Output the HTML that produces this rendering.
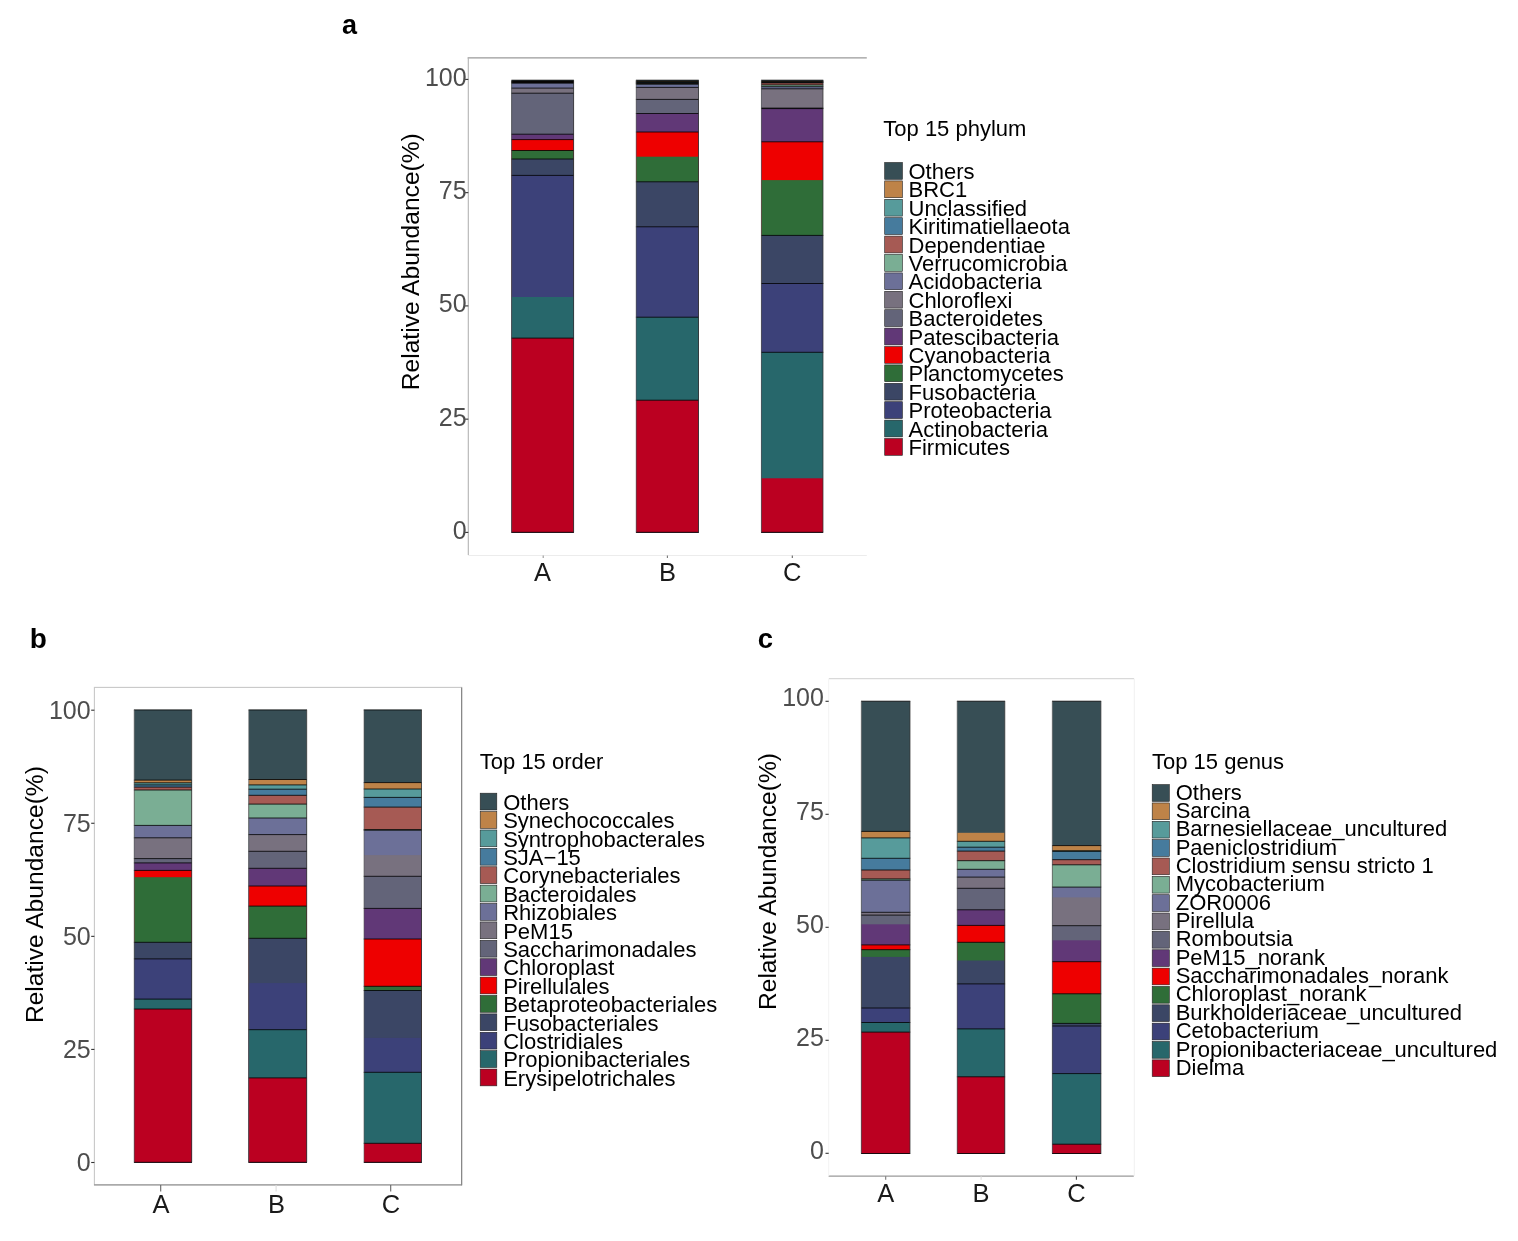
<!DOCTYPE html><html><head><meta charset="utf-8"><title>Relative abundance</title><style>
html,body{margin:0;padding:0;background:#fff;width:1518px;height:1241px;overflow:hidden}
svg{display:block}text{font-family:"Liberation Sans",Arial,sans-serif}
.tk{fill:#4d4d4d}.xl{fill:#1a1a1a;text-anchor:middle}.lg{fill:#000}.pl{font-weight:bold;fill:#000}
</style></head><body>
<svg width="1518" height="1241" viewBox="0 0 1518 1241">
<rect width="1518" height="1241" fill="#fff"/>
<text class="pl" x="341.9" y="34.2" font-size="27">a</text>
<text class="pl" x="29.7" y="648.2" font-size="28">b</text>
<text class="pl" x="757.8" y="648.3" font-size="27.5">c</text>
<line x1="467.6" y1="57.9" x2="866.8" y2="57.9" stroke="#9a9a9a" stroke-width="1.4"/>
<line x1="468.3" y1="57.9" x2="468.3" y2="555" stroke="#b3b3b3" stroke-width="1.1"/>
<line x1="468.3" y1="555.5" x2="866.8" y2="555.5" stroke="#ececec" stroke-width="1.1"/>
<rect x="94.4" y="687.4" width="367.3" height="497.5" fill="none" stroke="#c8c8c8" stroke-width="1.1"/>
<line x1="94" y1="1184.9" x2="462" y2="1184.9" stroke="#9a9a9a" stroke-width="1.2"/>
<line x1="461.6" y1="687.4" x2="461.6" y2="1185.3" stroke="#888" stroke-width="1.2"/>
<line x1="828.9" y1="678.6" x2="1134" y2="678.6" stroke="#d9d9d9" stroke-width="1.2"/>
<line x1="828.6" y1="1176.2" x2="1133.8" y2="1176.2" stroke="#9a9a9a" stroke-width="1.2"/>
<line x1="828.7" y1="678.6" x2="828.7" y2="1176" stroke="#f3f3f3" stroke-width="1"/>
<line x1="1134.3" y1="678.6" x2="1134.3" y2="1176" stroke="#f0f0f0" stroke-width="1"/>
<rect x="511.70" y="80.20" width="61.90" height="452.10" fill="#374E55"/>
<rect x="511.70" y="81.00" width="61.90" height="451.30" fill="#BE8348"/>
<rect x="511.70" y="81.50" width="61.90" height="450.80" fill="#579B9B"/>
<rect x="511.70" y="81.90" width="61.90" height="450.40" fill="#467B9D"/>
<rect x="511.70" y="82.30" width="61.90" height="450.00" fill="#A65A54"/>
<rect x="511.70" y="82.70" width="61.90" height="449.60" fill="#7AAE94"/>
<rect x="511.70" y="83.10" width="61.90" height="449.20" fill="#6C7098"/>
<rect x="511.70" y="88.10" width="61.90" height="444.20" fill="#78717F"/>
<rect x="511.70" y="93.20" width="61.90" height="439.10" fill="#636479"/>
<rect x="511.70" y="134.20" width="61.90" height="398.10" fill="#613877"/>
<rect x="511.70" y="139.60" width="61.90" height="392.70" fill="#EE0000"/>
<rect x="511.70" y="150.50" width="61.90" height="381.80" fill="#2F6D38"/>
<rect x="511.70" y="159.00" width="61.90" height="373.30" fill="#3B4665"/>
<rect x="511.70" y="175.40" width="61.90" height="356.90" fill="#3C4179"/>
<rect x="511.70" y="297.00" width="61.90" height="235.30" fill="#27676B"/>
<rect x="511.70" y="338.10" width="61.90" height="194.20" fill="#BB0021"/>
<path d="M511.40 80.20H573.90 M511.40 81.00H573.90 M511.40 81.50H573.90 M511.40 81.90H573.90 M511.40 82.30H573.90 M511.40 82.70H573.90 M511.40 83.10H573.90 M511.40 88.10H573.90 M511.40 93.20H573.90 M511.40 134.20H573.90 M511.40 139.60H573.90 M511.40 150.50H573.90 M511.40 159.00H573.90 M511.40 175.40H573.90 M511.40 338.10H573.90 M511.40 532.30H573.90" stroke="#000" stroke-width="0.8" fill="none"/>
<line x1="511.70" y1="80.20" x2="511.70" y2="532.30" stroke="#555" stroke-width="0.6"/>
<line x1="573.60" y1="80.20" x2="573.60" y2="532.30" stroke="#333" stroke-width="0.75"/>
<rect x="636.20" y="80.20" width="62.30" height="452.10" fill="#374E55"/>
<rect x="636.20" y="81.20" width="62.30" height="451.10" fill="#BE8348"/>
<rect x="636.20" y="81.80" width="62.30" height="450.50" fill="#579B9B"/>
<rect x="636.20" y="82.40" width="62.30" height="449.90" fill="#467B9D"/>
<rect x="636.20" y="83.00" width="62.30" height="449.30" fill="#A65A54"/>
<rect x="636.20" y="83.60" width="62.30" height="448.70" fill="#7AAE94"/>
<rect x="636.20" y="84.20" width="62.30" height="448.10" fill="#6C7098"/>
<rect x="636.20" y="87.40" width="62.30" height="444.90" fill="#78717F"/>
<rect x="636.20" y="99.40" width="62.30" height="432.90" fill="#636479"/>
<rect x="636.20" y="113.50" width="62.30" height="418.80" fill="#613877"/>
<rect x="636.20" y="132.00" width="62.30" height="400.30" fill="#EE0000"/>
<rect x="636.20" y="156.70" width="62.30" height="375.60" fill="#2F6D38"/>
<rect x="636.20" y="181.80" width="62.30" height="350.50" fill="#3B4665"/>
<rect x="636.20" y="226.80" width="62.30" height="305.50" fill="#3C4179"/>
<rect x="636.20" y="317.20" width="62.30" height="215.10" fill="#27676B"/>
<rect x="636.20" y="400.20" width="62.30" height="132.10" fill="#BB0021"/>
<path d="M635.90 80.20H698.80 M635.90 81.20H698.80 M635.90 81.80H698.80 M635.90 82.40H698.80 M635.90 83.00H698.80 M635.90 83.60H698.80 M635.90 84.20H698.80 M635.90 87.40H698.80 M635.90 99.40H698.80 M635.90 113.50H698.80 M635.90 132.00H698.80 M635.90 181.80H698.80 M635.90 226.80H698.80 M635.90 317.20H698.80 M635.90 400.20H698.80 M635.90 532.30H698.80" stroke="#000" stroke-width="0.8" fill="none"/>
<line x1="636.20" y1="80.20" x2="636.20" y2="532.30" stroke="#555" stroke-width="0.6"/>
<line x1="698.50" y1="80.20" x2="698.50" y2="532.30" stroke="#333" stroke-width="0.75"/>
<rect x="761.40" y="80.20" width="61.60" height="452.10" fill="#374E55"/>
<rect x="761.40" y="81.30" width="61.60" height="451.00" fill="#BE8348"/>
<rect x="761.40" y="81.90" width="61.60" height="450.40" fill="#579B9B"/>
<rect x="761.40" y="82.40" width="61.60" height="449.90" fill="#467B9D"/>
<rect x="761.40" y="82.90" width="61.60" height="449.40" fill="#A65A54"/>
<rect x="761.40" y="84.90" width="61.60" height="447.40" fill="#7AAE94"/>
<rect x="761.40" y="86.70" width="61.60" height="445.60" fill="#6C7098"/>
<rect x="761.40" y="88.80" width="61.60" height="443.50" fill="#78717F"/>
<rect x="761.40" y="108.10" width="61.60" height="424.20" fill="#636479"/>
<rect x="761.40" y="108.60" width="61.60" height="423.70" fill="#613877"/>
<rect x="761.40" y="141.80" width="61.60" height="390.50" fill="#EE0000"/>
<rect x="761.40" y="180.10" width="61.60" height="352.20" fill="#2F6D38"/>
<rect x="761.40" y="235.40" width="61.60" height="296.90" fill="#3B4665"/>
<rect x="761.40" y="283.50" width="61.60" height="248.80" fill="#3C4179"/>
<rect x="761.40" y="352.30" width="61.60" height="180.00" fill="#27676B"/>
<rect x="761.40" y="478.30" width="61.60" height="54.00" fill="#BB0021"/>
<path d="M761.10 80.20H823.30 M761.10 81.30H823.30 M761.10 81.90H823.30 M761.10 82.40H823.30 M761.10 82.90H823.30 M761.10 84.90H823.30 M761.10 86.70H823.30 M761.10 88.80H823.30 M761.10 108.10H823.30 M761.10 108.60H823.30 M761.10 141.80H823.30 M761.10 235.40H823.30 M761.10 283.50H823.30 M761.10 352.30H823.30 M761.10 532.30H823.30" stroke="#000" stroke-width="0.8" fill="none"/>
<line x1="761.40" y1="80.20" x2="761.40" y2="532.30" stroke="#555" stroke-width="0.6"/>
<line x1="823.00" y1="80.20" x2="823.00" y2="532.30" stroke="#333" stroke-width="0.75"/>
<line x1="465.10" y1="532.40" x2="468.30" y2="532.40" stroke="#333" stroke-width="1.1"/>
<text class="tk" x="466.60" y="538.67" font-size="25.0" text-anchor="end">0</text>
<line x1="465.10" y1="419.15" x2="468.30" y2="419.15" stroke="#333" stroke-width="1.1"/>
<text class="tk" x="466.60" y="425.50" font-size="25.0" text-anchor="end">25</text>
<line x1="465.10" y1="305.90" x2="468.30" y2="305.90" stroke="#333" stroke-width="1.1"/>
<text class="tk" x="466.60" y="312.32" font-size="25.0" text-anchor="end">50</text>
<line x1="465.10" y1="192.65" x2="468.30" y2="192.65" stroke="#333" stroke-width="1.1"/>
<text class="tk" x="466.60" y="199.15" font-size="25.0" text-anchor="end">75</text>
<line x1="465.10" y1="79.40" x2="468.30" y2="79.40" stroke="#333" stroke-width="1.1"/>
<text class="tk" x="466.60" y="85.98" font-size="25.0" text-anchor="end">100</text>
<line x1="543.20" y1="555.50" x2="543.20" y2="558.10" stroke="#999" stroke-width="1.1"/>
<text class="xl" x="542.50" y="580.50" font-size="25.5">A</text>
<line x1="667.40" y1="555.50" x2="667.40" y2="558.10" stroke="#777" stroke-width="1.1"/>
<text class="xl" x="667.40" y="580.50" font-size="25.5">B</text>
<line x1="792.30" y1="555.50" x2="792.30" y2="558.10" stroke="#666" stroke-width="1.1"/>
<text class="xl" x="792.30" y="580.50" font-size="25.5">C</text>
<text x="418.80" y="261.70" font-size="24.6" fill="#000" text-anchor="middle" transform="rotate(-90 418.80 261.70)">Relative Abundance(%)</text>
<text class="lg" x="883.30" y="136.00" font-size="22">Top 15 phylum</text>
<rect x="884.70" y="162.50" width="17.70" height="16.80" fill="#374E55" stroke="#222" stroke-width="0.6"/>
<text class="lg" x="908.50" y="179.00" font-size="22">Others</text>
<rect x="884.70" y="180.90" width="17.70" height="16.80" fill="#BE8348" stroke="#222" stroke-width="0.6"/>
<text class="lg" x="908.50" y="197.40" font-size="22">BRC1</text>
<rect x="884.70" y="199.30" width="17.70" height="16.80" fill="#579B9B" stroke="#222" stroke-width="0.6"/>
<text class="lg" x="908.50" y="215.80" font-size="22">Unclassified</text>
<rect x="884.70" y="217.70" width="17.70" height="16.80" fill="#467B9D" stroke="#222" stroke-width="0.6"/>
<text class="lg" x="908.50" y="234.20" font-size="22">Kiritimatiellaeota</text>
<rect x="884.70" y="236.10" width="17.70" height="16.80" fill="#A65A54" stroke="#222" stroke-width="0.6"/>
<text class="lg" x="908.50" y="252.60" font-size="22">Dependentiae</text>
<rect x="884.70" y="254.50" width="17.70" height="16.80" fill="#7AAE94" stroke="#222" stroke-width="0.6"/>
<text class="lg" x="908.50" y="271.00" font-size="22">Verrucomicrobia</text>
<rect x="884.70" y="272.90" width="17.70" height="16.80" fill="#6C7098" stroke="#222" stroke-width="0.6"/>
<text class="lg" x="908.50" y="289.40" font-size="22">Acidobacteria</text>
<rect x="884.70" y="291.30" width="17.70" height="16.80" fill="#78717F" stroke="#222" stroke-width="0.6"/>
<text class="lg" x="908.50" y="307.80" font-size="22">Chloroflexi</text>
<rect x="884.70" y="309.70" width="17.70" height="16.80" fill="#636479" stroke="#222" stroke-width="0.6"/>
<text class="lg" x="908.50" y="326.20" font-size="22">Bacteroidetes</text>
<rect x="884.70" y="328.10" width="17.70" height="16.80" fill="#613877" stroke="#222" stroke-width="0.6"/>
<text class="lg" x="908.50" y="344.60" font-size="22">Patescibacteria</text>
<rect x="884.70" y="346.50" width="17.70" height="16.80" fill="#EE0000" stroke="#222" stroke-width="0.6"/>
<text class="lg" x="908.50" y="363.00" font-size="22">Cyanobacteria</text>
<rect x="884.70" y="364.90" width="17.70" height="16.80" fill="#2F6D38" stroke="#222" stroke-width="0.6"/>
<text class="lg" x="908.50" y="381.40" font-size="22">Planctomycetes</text>
<rect x="884.70" y="383.30" width="17.70" height="16.80" fill="#3B4665" stroke="#222" stroke-width="0.6"/>
<text class="lg" x="908.50" y="399.80" font-size="22">Fusobacteria</text>
<rect x="884.70" y="401.70" width="17.70" height="16.80" fill="#3C4179" stroke="#222" stroke-width="0.6"/>
<text class="lg" x="908.50" y="418.20" font-size="22">Proteobacteria</text>
<rect x="884.70" y="420.10" width="17.70" height="16.80" fill="#27676B" stroke="#222" stroke-width="0.6"/>
<text class="lg" x="908.50" y="436.60" font-size="22">Actinobacteria</text>
<rect x="884.70" y="438.50" width="17.70" height="16.80" fill="#BB0021" stroke="#222" stroke-width="0.6"/>
<text class="lg" x="908.50" y="455.00" font-size="22">Firmicutes</text>
<rect x="134.20" y="709.90" width="57.50" height="452.40" fill="#374E55"/>
<rect x="134.20" y="780.10" width="57.50" height="382.20" fill="#BE8348"/>
<rect x="134.20" y="782.80" width="57.50" height="379.50" fill="#579B9B"/>
<rect x="134.20" y="784.90" width="57.50" height="377.40" fill="#467B9D"/>
<rect x="134.20" y="787.10" width="57.50" height="375.20" fill="#A65A54"/>
<rect x="134.20" y="790.00" width="57.50" height="372.30" fill="#7AAE94"/>
<rect x="134.20" y="825.40" width="57.50" height="336.90" fill="#6C7098"/>
<rect x="134.20" y="837.80" width="57.50" height="324.50" fill="#78717F"/>
<rect x="134.20" y="858.60" width="57.50" height="303.70" fill="#636479"/>
<rect x="134.20" y="862.90" width="57.50" height="299.40" fill="#613877"/>
<rect x="134.20" y="870.40" width="57.50" height="291.90" fill="#EE0000"/>
<rect x="134.20" y="877.20" width="57.50" height="285.10" fill="#2F6D38"/>
<rect x="134.20" y="942.30" width="57.50" height="220.00" fill="#3B4665"/>
<rect x="134.20" y="958.90" width="57.50" height="203.40" fill="#3C4179"/>
<rect x="134.20" y="999.10" width="57.50" height="163.20" fill="#27676B"/>
<rect x="134.20" y="1009.00" width="57.50" height="153.30" fill="#BB0021"/>
<path d="M133.90 709.90H192.00 M133.90 780.10H192.00 M133.90 782.80H192.00 M133.90 784.90H192.00 M133.90 787.10H192.00 M133.90 790.00H192.00 M133.90 825.40H192.00 M133.90 837.80H192.00 M133.90 858.60H192.00 M133.90 862.90H192.00 M133.90 870.40H192.00 M133.90 942.30H192.00 M133.90 958.90H192.00 M133.90 999.10H192.00 M133.90 1009.00H192.00 M133.90 1162.30H192.00" stroke="#000" stroke-width="0.8" fill="none"/>
<line x1="134.20" y1="709.90" x2="134.20" y2="1162.30" stroke="#555" stroke-width="0.6"/>
<line x1="191.70" y1="709.90" x2="191.70" y2="1162.30" stroke="#333" stroke-width="0.75"/>
<rect x="248.80" y="709.90" width="57.90" height="452.40" fill="#374E55"/>
<rect x="248.80" y="779.50" width="57.90" height="382.80" fill="#BE8348"/>
<rect x="248.80" y="784.90" width="57.90" height="377.40" fill="#579B9B"/>
<rect x="248.80" y="789.20" width="57.90" height="373.10" fill="#467B9D"/>
<rect x="248.80" y="795.30" width="57.90" height="367.00" fill="#A65A54"/>
<rect x="248.80" y="804.10" width="57.90" height="358.20" fill="#7AAE94"/>
<rect x="248.80" y="818.00" width="57.90" height="344.30" fill="#6C7098"/>
<rect x="248.80" y="834.60" width="57.90" height="327.70" fill="#78717F"/>
<rect x="248.80" y="851.30" width="57.90" height="311.00" fill="#636479"/>
<rect x="248.80" y="868.30" width="57.90" height="294.00" fill="#613877"/>
<rect x="248.80" y="886.00" width="57.90" height="276.30" fill="#EE0000"/>
<rect x="248.80" y="906.10" width="57.90" height="256.20" fill="#2F6D38"/>
<rect x="248.80" y="938.30" width="57.90" height="224.00" fill="#3B4665"/>
<rect x="248.80" y="983.10" width="57.90" height="179.20" fill="#3C4179"/>
<rect x="248.80" y="1029.70" width="57.90" height="132.60" fill="#27676B"/>
<rect x="248.80" y="1077.90" width="57.90" height="84.40" fill="#BB0021"/>
<path d="M248.50 709.90H307.00 M248.50 779.50H307.00 M248.50 784.90H307.00 M248.50 789.20H307.00 M248.50 795.30H307.00 M248.50 804.10H307.00 M248.50 818.00H307.00 M248.50 834.60H307.00 M248.50 851.30H307.00 M248.50 868.30H307.00 M248.50 886.00H307.00 M248.50 906.10H307.00 M248.50 938.30H307.00 M248.50 1029.70H307.00 M248.50 1077.90H307.00 M248.50 1162.30H307.00" stroke="#000" stroke-width="0.8" fill="none"/>
<line x1="248.80" y1="709.90" x2="248.80" y2="1162.30" stroke="#555" stroke-width="0.6"/>
<line x1="306.70" y1="709.90" x2="306.70" y2="1162.30" stroke="#333" stroke-width="0.75"/>
<rect x="364.00" y="709.90" width="57.50" height="452.40" fill="#374E55"/>
<rect x="364.00" y="782.60" width="57.50" height="379.70" fill="#BE8348"/>
<rect x="364.00" y="789.00" width="57.50" height="373.30" fill="#579B9B"/>
<rect x="364.00" y="797.40" width="57.50" height="364.90" fill="#467B9D"/>
<rect x="364.00" y="807.10" width="57.50" height="355.20" fill="#A65A54"/>
<rect x="364.00" y="829.60" width="57.50" height="332.70" fill="#7AAE94"/>
<rect x="364.00" y="830.20" width="57.50" height="332.10" fill="#6C7098"/>
<rect x="364.00" y="855.10" width="57.50" height="307.20" fill="#78717F"/>
<rect x="364.00" y="876.30" width="57.50" height="286.00" fill="#636479"/>
<rect x="364.00" y="908.40" width="57.50" height="253.90" fill="#613877"/>
<rect x="364.00" y="939.00" width="57.50" height="223.30" fill="#EE0000"/>
<rect x="364.00" y="986.30" width="57.50" height="176.00" fill="#2F6D38"/>
<rect x="364.00" y="990.50" width="57.50" height="171.80" fill="#3B4665"/>
<rect x="364.00" y="1037.90" width="57.50" height="124.40" fill="#3C4179"/>
<rect x="364.00" y="1072.30" width="57.50" height="90.00" fill="#27676B"/>
<rect x="364.00" y="1143.30" width="57.50" height="19.00" fill="#BB0021"/>
<path d="M363.70 709.90H421.80 M363.70 782.60H421.80 M363.70 789.00H421.80 M363.70 797.40H421.80 M363.70 807.10H421.80 M363.70 829.60H421.80 M363.70 830.20H421.80 M363.70 876.30H421.80 M363.70 908.40H421.80 M363.70 939.00H421.80 M363.70 986.30H421.80 M363.70 990.50H421.80 M363.70 1072.30H421.80 M363.70 1143.30H421.80 M363.70 1162.30H421.80" stroke="#000" stroke-width="0.8" fill="none"/>
<line x1="364.00" y1="709.90" x2="364.00" y2="1162.30" stroke="#555" stroke-width="0.6"/>
<line x1="421.50" y1="709.90" x2="421.50" y2="1162.30" stroke="#333" stroke-width="0.75"/>
<line x1="91.20" y1="1162.50" x2="94.40" y2="1162.50" stroke="#333" stroke-width="1.1"/>
<text class="tk" x="90.70" y="1171.47" font-size="25.0" text-anchor="end">0</text>
<line x1="91.20" y1="1049.42" x2="94.40" y2="1049.42" stroke="#333" stroke-width="1.1"/>
<text class="tk" x="90.70" y="1058.38" font-size="25.0" text-anchor="end">25</text>
<line x1="91.20" y1="936.35" x2="94.40" y2="936.35" stroke="#333" stroke-width="1.1"/>
<text class="tk" x="90.70" y="945.27" font-size="25.0" text-anchor="end">50</text>
<line x1="91.20" y1="823.27" x2="94.40" y2="823.27" stroke="#333" stroke-width="1.1"/>
<text class="tk" x="90.70" y="832.17" font-size="25.0" text-anchor="end">75</text>
<line x1="91.20" y1="710.20" x2="94.40" y2="710.20" stroke="#333" stroke-width="1.1"/>
<text class="tk" x="90.70" y="719.08" font-size="25.0" text-anchor="end">100</text>
<line x1="160.70" y1="1184.90" x2="160.70" y2="1191.40" stroke="#666" stroke-width="1.1"/>
<text class="xl" x="161.00" y="1213.40" font-size="25.5">A</text>
<line x1="276.10" y1="1184.90" x2="276.10" y2="1191.40" stroke="#ddd" stroke-width="1.1"/>
<text class="xl" x="276.40" y="1213.40" font-size="25.5">B</text>
<line x1="390.70" y1="1184.90" x2="390.70" y2="1191.40" stroke="#666" stroke-width="1.1"/>
<text class="xl" x="391.00" y="1213.40" font-size="25.5">C</text>
<text x="43.20" y="894.60" font-size="24.6" fill="#000" text-anchor="middle" transform="rotate(-90 43.20 894.60)">Relative Abundance(%)</text>
<text class="lg" x="479.80" y="768.80" font-size="22">Top 15 order</text>
<rect x="480.20" y="793.20" width="16.60" height="16.79" fill="#374E55" stroke="#222" stroke-width="0.6"/>
<text class="lg" x="503.20" y="809.90" font-size="22">Others</text>
<rect x="480.20" y="811.59" width="16.60" height="16.79" fill="#BE8348" stroke="#222" stroke-width="0.6"/>
<text class="lg" x="503.20" y="828.29" font-size="22">Synechococcales</text>
<rect x="480.20" y="829.98" width="16.60" height="16.79" fill="#579B9B" stroke="#222" stroke-width="0.6"/>
<text class="lg" x="503.20" y="846.68" font-size="22">Syntrophobacterales</text>
<rect x="480.20" y="848.37" width="16.60" height="16.79" fill="#467B9D" stroke="#222" stroke-width="0.6"/>
<text class="lg" x="503.20" y="865.07" font-size="22">SJA−15</text>
<rect x="480.20" y="866.76" width="16.60" height="16.79" fill="#A65A54" stroke="#222" stroke-width="0.6"/>
<text class="lg" x="503.20" y="883.46" font-size="22">Corynebacteriales</text>
<rect x="480.20" y="885.15" width="16.60" height="16.79" fill="#7AAE94" stroke="#222" stroke-width="0.6"/>
<text class="lg" x="503.20" y="901.85" font-size="22">Bacteroidales</text>
<rect x="480.20" y="903.54" width="16.60" height="16.79" fill="#6C7098" stroke="#222" stroke-width="0.6"/>
<text class="lg" x="503.20" y="920.24" font-size="22">Rhizobiales</text>
<rect x="480.20" y="921.93" width="16.60" height="16.79" fill="#78717F" stroke="#222" stroke-width="0.6"/>
<text class="lg" x="503.20" y="938.63" font-size="22">PeM15</text>
<rect x="480.20" y="940.32" width="16.60" height="16.79" fill="#636479" stroke="#222" stroke-width="0.6"/>
<text class="lg" x="503.20" y="957.02" font-size="22">Saccharimonadales</text>
<rect x="480.20" y="958.71" width="16.60" height="16.79" fill="#613877" stroke="#222" stroke-width="0.6"/>
<text class="lg" x="503.20" y="975.41" font-size="22">Chloroplast</text>
<rect x="480.20" y="977.10" width="16.60" height="16.79" fill="#EE0000" stroke="#222" stroke-width="0.6"/>
<text class="lg" x="503.20" y="993.80" font-size="22">Pirellulales</text>
<rect x="480.20" y="995.49" width="16.60" height="16.79" fill="#2F6D38" stroke="#222" stroke-width="0.6"/>
<text class="lg" x="503.20" y="1012.19" font-size="22">Betaproteobacteriales</text>
<rect x="480.20" y="1013.88" width="16.60" height="16.79" fill="#3B4665" stroke="#222" stroke-width="0.6"/>
<text class="lg" x="503.20" y="1030.58" font-size="22">Fusobacteriales</text>
<rect x="480.20" y="1032.27" width="16.60" height="16.79" fill="#3C4179" stroke="#222" stroke-width="0.6"/>
<text class="lg" x="503.20" y="1048.97" font-size="22">Clostridiales</text>
<rect x="480.20" y="1050.66" width="16.60" height="16.79" fill="#27676B" stroke="#222" stroke-width="0.6"/>
<text class="lg" x="503.20" y="1067.36" font-size="22">Propionibacteriales</text>
<rect x="480.20" y="1069.05" width="16.60" height="16.79" fill="#BB0021" stroke="#222" stroke-width="0.6"/>
<text class="lg" x="503.20" y="1085.75" font-size="22">Erysipelotrichales</text>
<rect x="861.30" y="701.20" width="48.70" height="452.30" fill="#374E55"/>
<rect x="861.30" y="831.40" width="48.70" height="322.10" fill="#BE8348"/>
<rect x="861.30" y="837.90" width="48.70" height="315.60" fill="#579B9B"/>
<rect x="861.30" y="858.30" width="48.70" height="295.20" fill="#467B9D"/>
<rect x="861.30" y="870.00" width="48.70" height="283.50" fill="#A65A54"/>
<rect x="861.30" y="878.90" width="48.70" height="274.60" fill="#7AAE94"/>
<rect x="861.30" y="880.20" width="48.70" height="273.30" fill="#6C7098"/>
<rect x="861.30" y="912.30" width="48.70" height="241.20" fill="#78717F"/>
<rect x="861.30" y="915.10" width="48.70" height="238.40" fill="#636479"/>
<rect x="861.30" y="924.30" width="48.70" height="229.20" fill="#613877"/>
<rect x="861.30" y="944.90" width="48.70" height="208.60" fill="#EE0000"/>
<rect x="861.30" y="949.70" width="48.70" height="203.80" fill="#2F6D38"/>
<rect x="861.30" y="956.90" width="48.70" height="196.60" fill="#3B4665"/>
<rect x="861.30" y="1008.00" width="48.70" height="145.50" fill="#3C4179"/>
<rect x="861.30" y="1022.50" width="48.70" height="131.00" fill="#27676B"/>
<rect x="861.30" y="1032.10" width="48.70" height="121.40" fill="#BB0021"/>
<path d="M861.00 701.20H910.30 M861.00 831.40H910.30 M861.00 837.90H910.30 M861.00 858.30H910.30 M861.00 870.00H910.30 M861.00 878.90H910.30 M861.00 880.20H910.30 M861.00 912.30H910.30 M861.00 915.10H910.30 M861.00 944.90H910.30 M861.00 949.70H910.30 M861.00 1008.00H910.30 M861.00 1022.50H910.30 M861.00 1032.10H910.30 M861.00 1153.50H910.30" stroke="#000" stroke-width="0.8" fill="none"/>
<line x1="861.30" y1="701.20" x2="861.30" y2="1153.50" stroke="#555" stroke-width="0.6"/>
<line x1="910.00" y1="701.20" x2="910.00" y2="1153.50" stroke="#333" stroke-width="0.75"/>
<rect x="957.20" y="701.20" width="47.60" height="452.30" fill="#374E55"/>
<rect x="957.20" y="832.80" width="47.60" height="320.70" fill="#BE8348"/>
<rect x="957.20" y="841.30" width="47.60" height="312.20" fill="#579B9B"/>
<rect x="957.20" y="847.20" width="47.60" height="306.30" fill="#467B9D"/>
<rect x="957.20" y="851.10" width="47.60" height="302.40" fill="#A65A54"/>
<rect x="957.20" y="860.70" width="47.60" height="292.80" fill="#7AAE94"/>
<rect x="957.20" y="869.30" width="47.60" height="284.20" fill="#6C7098"/>
<rect x="957.20" y="877.10" width="47.60" height="276.40" fill="#78717F"/>
<rect x="957.20" y="888.30" width="47.60" height="265.20" fill="#636479"/>
<rect x="957.20" y="909.80" width="47.60" height="243.70" fill="#613877"/>
<rect x="957.20" y="925.40" width="47.60" height="228.10" fill="#EE0000"/>
<rect x="957.20" y="942.30" width="47.60" height="211.20" fill="#2F6D38"/>
<rect x="957.20" y="960.50" width="47.60" height="193.00" fill="#3B4665"/>
<rect x="957.20" y="983.90" width="47.60" height="169.60" fill="#3C4179"/>
<rect x="957.20" y="1028.90" width="47.60" height="124.60" fill="#27676B"/>
<rect x="957.20" y="1076.80" width="47.60" height="76.70" fill="#BB0021"/>
<path d="M956.90 701.20H1005.10 M956.90 841.30H1005.10 M956.90 847.20H1005.10 M956.90 851.10H1005.10 M956.90 860.70H1005.10 M956.90 869.30H1005.10 M956.90 877.10H1005.10 M956.90 888.30H1005.10 M956.90 909.80H1005.10 M956.90 925.40H1005.10 M956.90 942.30H1005.10 M956.90 983.90H1005.10 M956.90 1028.90H1005.10 M956.90 1076.80H1005.10 M956.90 1153.50H1005.10" stroke="#000" stroke-width="0.8" fill="none"/>
<line x1="957.20" y1="701.20" x2="957.20" y2="1153.50" stroke="#555" stroke-width="0.6"/>
<line x1="1004.80" y1="701.20" x2="1004.80" y2="1153.50" stroke="#333" stroke-width="0.75"/>
<rect x="1052.30" y="701.20" width="48.60" height="452.30" fill="#374E55"/>
<rect x="1052.30" y="845.60" width="48.60" height="307.90" fill="#BE8348"/>
<rect x="1052.30" y="850.80" width="48.60" height="302.70" fill="#579B9B"/>
<rect x="1052.30" y="851.30" width="48.60" height="302.20" fill="#467B9D"/>
<rect x="1052.30" y="859.70" width="48.60" height="293.80" fill="#A65A54"/>
<rect x="1052.30" y="864.80" width="48.60" height="288.70" fill="#7AAE94"/>
<rect x="1052.30" y="887.10" width="48.60" height="266.40" fill="#6C7098"/>
<rect x="1052.30" y="897.40" width="48.60" height="256.10" fill="#78717F"/>
<rect x="1052.30" y="925.70" width="48.60" height="227.80" fill="#636479"/>
<rect x="1052.30" y="940.30" width="48.60" height="213.20" fill="#613877"/>
<rect x="1052.30" y="961.70" width="48.60" height="191.80" fill="#EE0000"/>
<rect x="1052.30" y="993.80" width="48.60" height="159.70" fill="#2F6D38"/>
<rect x="1052.30" y="1023.40" width="48.60" height="130.10" fill="#3B4665"/>
<rect x="1052.30" y="1026.00" width="48.60" height="127.50" fill="#3C4179"/>
<rect x="1052.30" y="1073.60" width="48.60" height="79.90" fill="#27676B"/>
<rect x="1052.30" y="1144.20" width="48.60" height="9.30" fill="#BB0021"/>
<path d="M1052.00 701.20H1101.20 M1052.00 845.60H1101.20 M1052.00 850.80H1101.20 M1052.00 851.30H1101.20 M1052.00 859.70H1101.20 M1052.00 864.80H1101.20 M1052.00 887.10H1101.20 M1052.00 925.70H1101.20 M1052.00 961.70H1101.20 M1052.00 993.80H1101.20 M1052.00 1023.40H1101.20 M1052.00 1026.00H1101.20 M1052.00 1073.60H1101.20 M1052.00 1144.20H1101.20 M1052.00 1153.50H1101.20" stroke="#000" stroke-width="0.8" fill="none"/>
<line x1="1052.30" y1="701.20" x2="1052.30" y2="1153.50" stroke="#555" stroke-width="0.6"/>
<line x1="1100.90" y1="701.20" x2="1100.90" y2="1153.50" stroke="#333" stroke-width="0.75"/>
<line x1="825.50" y1="1153.30" x2="828.70" y2="1153.30" stroke="#333" stroke-width="1.1"/>
<text class="tk" x="823.90" y="1159.17" font-size="25.0" text-anchor="end">0</text>
<line x1="825.50" y1="1040.30" x2="828.70" y2="1040.30" stroke="#333" stroke-width="1.1"/>
<text class="tk" x="823.90" y="1045.95" font-size="25.0" text-anchor="end">25</text>
<line x1="825.50" y1="927.30" x2="828.70" y2="927.30" stroke="#333" stroke-width="1.1"/>
<text class="tk" x="823.90" y="932.72" font-size="25.0" text-anchor="end">50</text>
<line x1="825.50" y1="814.30" x2="828.70" y2="814.30" stroke="#333" stroke-width="1.1"/>
<text class="tk" x="823.90" y="819.50" font-size="25.0" text-anchor="end">75</text>
<line x1="825.50" y1="701.30" x2="828.70" y2="701.30" stroke="#333" stroke-width="1.1"/>
<text class="tk" x="823.90" y="706.27" font-size="25.0" text-anchor="end">100</text>
<line x1="885.70" y1="1176.30" x2="885.70" y2="1179.70" stroke="#777" stroke-width="1.1"/>
<text class="xl" x="885.80" y="1201.70" font-size="25.5">A</text>
<line x1="981.10" y1="1176.30" x2="981.10" y2="1179.70" stroke="#ddd" stroke-width="1.1"/>
<text class="xl" x="981.10" y="1201.70" font-size="25.5">B</text>
<line x1="1076.40" y1="1176.30" x2="1076.40" y2="1179.70" stroke="#444" stroke-width="1.1"/>
<text class="xl" x="1076.40" y="1201.70" font-size="25.5">C</text>
<text x="776.20" y="881.50" font-size="24.6" fill="#000" text-anchor="middle" transform="rotate(-90 776.20 881.50)">Relative Abundance(%)</text>
<text class="lg" x="1152.00" y="769.10" font-size="22">Top 15 genus</text>
<rect x="1152.20" y="784.60" width="17.10" height="16.75" fill="#374E55" stroke="#222" stroke-width="0.6"/>
<text class="lg" x="1175.70" y="799.60" font-size="22">Others</text>
<rect x="1152.20" y="802.95" width="17.10" height="16.75" fill="#BE8348" stroke="#222" stroke-width="0.6"/>
<text class="lg" x="1175.70" y="817.95" font-size="22">Sarcina</text>
<rect x="1152.20" y="821.30" width="17.10" height="16.75" fill="#579B9B" stroke="#222" stroke-width="0.6"/>
<text class="lg" x="1175.70" y="836.30" font-size="22">Barnesiellaceae_uncultured</text>
<rect x="1152.20" y="839.65" width="17.10" height="16.75" fill="#467B9D" stroke="#222" stroke-width="0.6"/>
<text class="lg" x="1175.70" y="854.65" font-size="22">Paeniclostridium</text>
<rect x="1152.20" y="858.00" width="17.10" height="16.75" fill="#A65A54" stroke="#222" stroke-width="0.6"/>
<text class="lg" x="1175.70" y="873.00" font-size="22">Clostridium sensu stricto 1</text>
<rect x="1152.20" y="876.35" width="17.10" height="16.75" fill="#7AAE94" stroke="#222" stroke-width="0.6"/>
<text class="lg" x="1175.70" y="891.35" font-size="22">Mycobacterium</text>
<rect x="1152.20" y="894.70" width="17.10" height="16.75" fill="#6C7098" stroke="#222" stroke-width="0.6"/>
<text class="lg" x="1175.70" y="909.70" font-size="22">ZOR0006</text>
<rect x="1152.20" y="913.05" width="17.10" height="16.75" fill="#78717F" stroke="#222" stroke-width="0.6"/>
<text class="lg" x="1175.70" y="928.05" font-size="22">Pirellula</text>
<rect x="1152.20" y="931.40" width="17.10" height="16.75" fill="#636479" stroke="#222" stroke-width="0.6"/>
<text class="lg" x="1175.70" y="946.40" font-size="22">Romboutsia</text>
<rect x="1152.20" y="949.75" width="17.10" height="16.75" fill="#613877" stroke="#222" stroke-width="0.6"/>
<text class="lg" x="1175.70" y="964.75" font-size="22">PeM15_norank</text>
<rect x="1152.20" y="968.10" width="17.10" height="16.75" fill="#EE0000" stroke="#222" stroke-width="0.6"/>
<text class="lg" x="1175.70" y="983.10" font-size="22">Saccharimonadales_norank</text>
<rect x="1152.20" y="986.45" width="17.10" height="16.75" fill="#2F6D38" stroke="#222" stroke-width="0.6"/>
<text class="lg" x="1175.70" y="1001.45" font-size="22">Chloroplast_norank</text>
<rect x="1152.20" y="1004.80" width="17.10" height="16.75" fill="#3B4665" stroke="#222" stroke-width="0.6"/>
<text class="lg" x="1175.70" y="1019.80" font-size="22">Burkholderiaceae_uncultured</text>
<rect x="1152.20" y="1023.15" width="17.10" height="16.75" fill="#3C4179" stroke="#222" stroke-width="0.6"/>
<text class="lg" x="1175.70" y="1038.15" font-size="22">Cetobacterium</text>
<rect x="1152.20" y="1041.50" width="17.10" height="16.75" fill="#27676B" stroke="#222" stroke-width="0.6"/>
<text class="lg" x="1175.70" y="1056.50" font-size="22">Propionibacteriaceae_uncultured</text>
<rect x="1152.20" y="1059.85" width="17.10" height="16.75" fill="#BB0021" stroke="#222" stroke-width="0.6"/>
<text class="lg" x="1175.70" y="1074.85" font-size="22">Dielma</text>
</svg></body></html>
